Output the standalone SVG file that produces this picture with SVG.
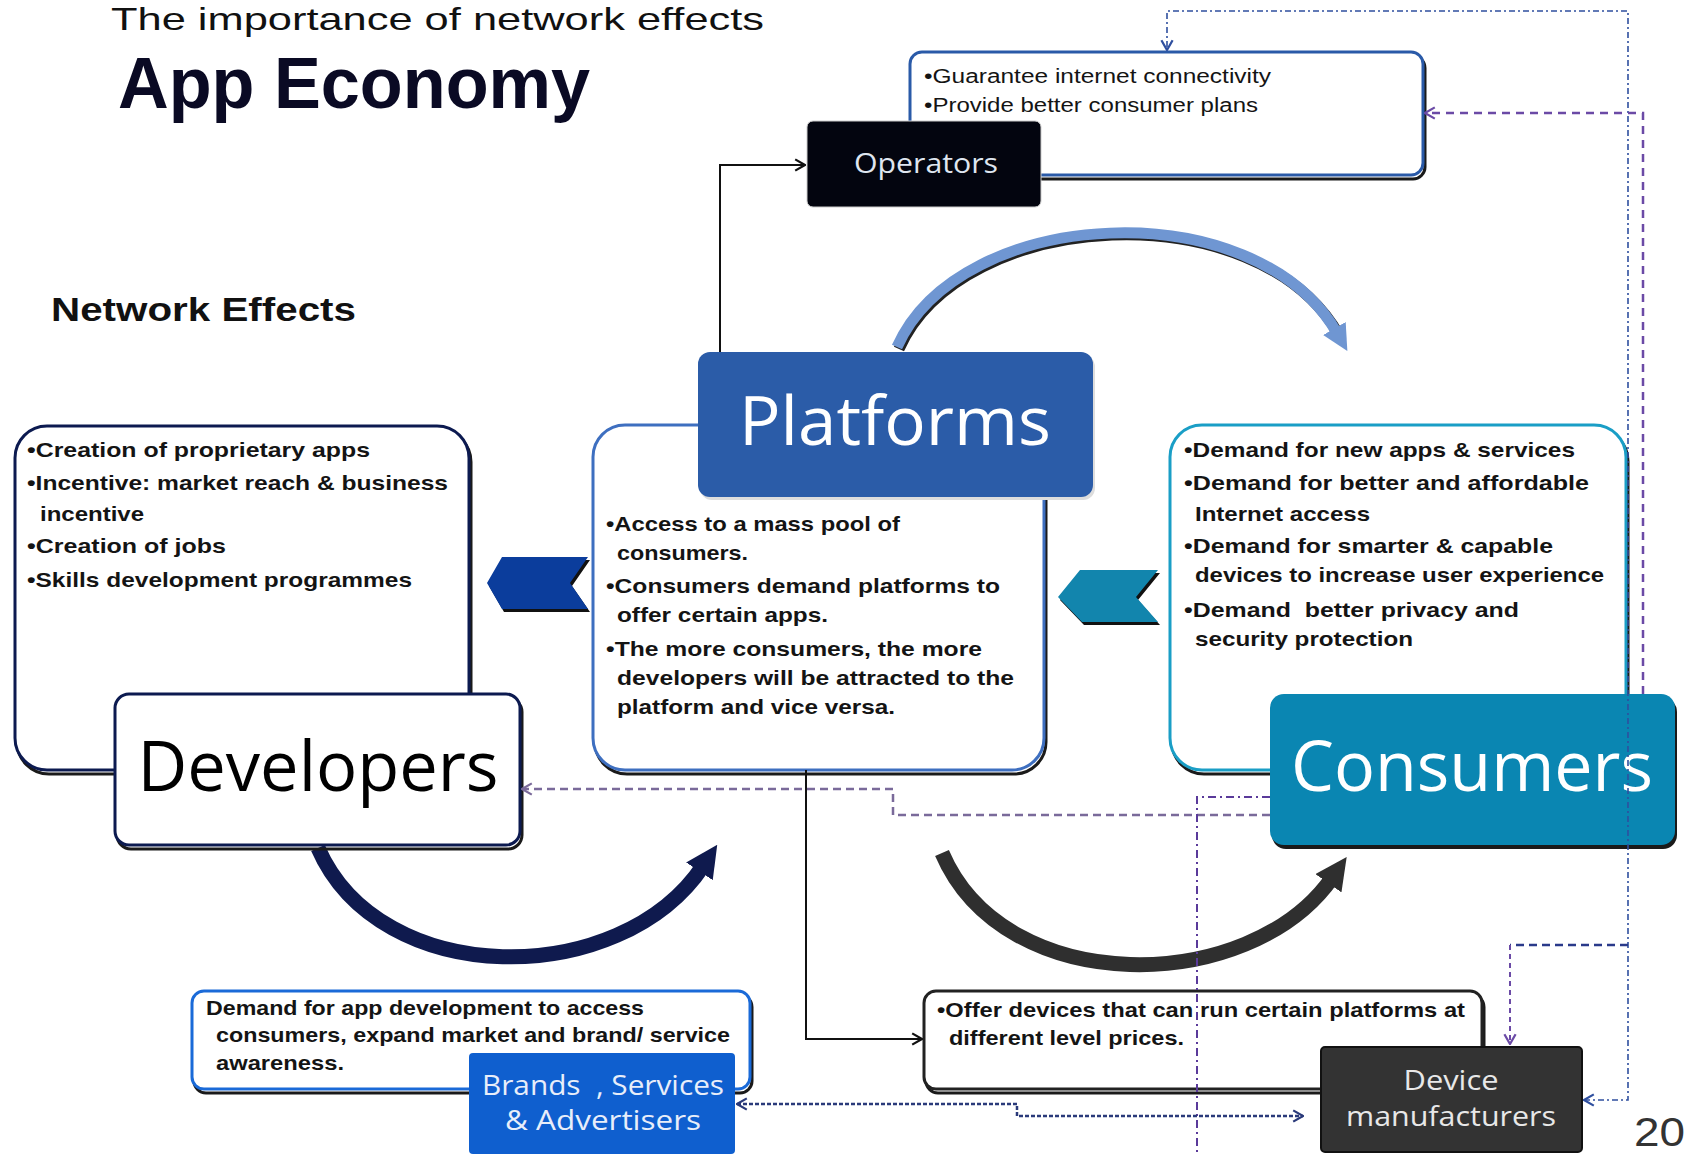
<svg xmlns="http://www.w3.org/2000/svg" width="1688" height="1156" viewBox="0 0 1688 1156">
<defs>
<style>
.info{font-family:"Liberation Sans",Arial,sans-serif;font-weight:bold;font-size:21px;fill:#141414}
.op{font-family:"Liberation Sans",Arial,sans-serif;font-size:20px;fill:#141414}
.lbl{font-family:"Open Sans","Liberation Sans",sans-serif;text-anchor:middle}
.shadow{fill:none;stroke:#1a1a1a;stroke-width:3}
.box{fill:#fff;stroke-width:3}
.conn{fill:none}
</style>
<marker id="hBlue" viewBox="0 0 10 10" refX="2" refY="5" markerWidth="26" markerHeight="26" markerUnits="userSpaceOnUse" orient="auto"><path d="M0,0 L10,5 L0,10 z" fill="#6f96d2"/></marker>
<marker id="hNavy" viewBox="0 0 10 10" refX="2" refY="5" markerWidth="32" markerHeight="32" markerUnits="userSpaceOnUse" orient="auto"><path d="M0,0 L10,5 L0,10 z" fill="#0f1a4e"/></marker>
<marker id="hGrey" viewBox="0 0 10 10" refX="2" refY="5" markerWidth="32" markerHeight="32" markerUnits="userSpaceOnUse" orient="auto"><path d="M0,0 L10,5 L0,10 z" fill="#2f2f2f"/></marker>
<marker id="oBlack" viewBox="0 0 10 10" refX="9" refY="5" markerWidth="14" markerHeight="14" markerUnits="userSpaceOnUse" orient="auto-start-reverse"><path d="M2,1 L9,5 L2,9" fill="none" stroke="#111" stroke-width="1.6"/></marker>
<marker id="oBlue" viewBox="0 0 10 10" refX="9" refY="5" markerWidth="14" markerHeight="14" markerUnits="userSpaceOnUse" orient="auto-start-reverse"><path d="M2,1 L9,5 L2,9" fill="none" stroke="#2f4f9f" stroke-width="1.6"/></marker>
<marker id="oPurple" viewBox="0 0 10 10" refX="9" refY="5" markerWidth="14" markerHeight="14" markerUnits="userSpaceOnUse" orient="auto-start-reverse"><path d="M2,1 L9,5 L2,9" fill="none" stroke="#6b4aa6" stroke-width="1.6"/></marker>
<marker id="oGrey" viewBox="0 0 10 10" refX="9" refY="5" markerWidth="14" markerHeight="14" markerUnits="userSpaceOnUse" orient="auto-start-reverse"><path d="M2,1 L9,5 L2,9" fill="none" stroke="#7a6a9a" stroke-width="1.6"/></marker>
<marker id="oNavy" viewBox="0 0 10 10" refX="9" refY="5" markerWidth="14" markerHeight="14" markerUnits="userSpaceOnUse" orient="auto-start-reverse"><path d="M2,1 L9,5 L2,9" fill="none" stroke="#2a3a7a" stroke-width="1.6"/></marker>
</defs>
<rect width="1688" height="1156" fill="#fff"/>

<g id="titles">
<text x="111" y="30" font-family="Liberation Sans,Arial,sans-serif" font-size="32" fill="#111" textLength="653" lengthAdjust="spacingAndGlyphs">The importance of network effects</text>
<text x="118" y="108" font-family="Liberation Sans,Arial,sans-serif" font-size="72" font-weight="bold" fill="#0a0a24" textLength="472" lengthAdjust="spacingAndGlyphs">App Economy</text>
<text x="51" y="321" font-family="Liberation Sans,Arial,sans-serif" font-size="34" font-weight="bold" fill="#111" textLength="305" lengthAdjust="spacingAndGlyphs">Network Effects</text>
</g>

<g id="arcs">
<path d="M899,349 C962,207 1257,192 1339,335" fill="none" stroke="#222" stroke-width="11"/>
<path d="M897,347 C960,205 1255,190 1337,333" fill="none" stroke="#6f96d2" stroke-width="11" marker-end="url(#hBlue)"/>
<path d="M318,848 C380,990 620,990 703,866" fill="none" stroke="#0f1a4e" stroke-width="15" marker-end="url(#hNavy)"/>
<path d="M942,853 C1005,1000 1250,995 1332,878" fill="none" stroke="#2f2f2f" stroke-width="15" marker-end="url(#hGrey)"/>
</g>

<g id="operators">
<rect class="shadow" x="912" y="56" width="513" height="123" rx="12"/>
<rect class="box" x="910" y="52" width="513" height="123" rx="12" stroke="#2a5aa8" stroke-width="2.5"/>
<text class="op" x="924" y="83" textLength="347" lengthAdjust="spacingAndGlyphs">•Guarantee internet connectivity</text>
<text class="op" x="924" y="112" textLength="334" lengthAdjust="spacingAndGlyphs">•Provide better consumer plans</text>
<rect x="807" y="121" width="234" height="86" rx="6" fill="#03050f" stroke="#ccc" stroke-width="1"/>
<text class="lbl" x="926" y="173" font-size="28" fill="#dfe6f0" textLength="144" lengthAdjust="spacingAndGlyphs">Operators</text>
</g>

<g id="developers">
<rect class="shadow" x="17" y="430" width="454" height="344" rx="32"/>
<rect class="box" x="15" y="426" width="454" height="344" rx="32" stroke="#0c1a50"/>
<text class="info" x="27" y="457" textLength="343" lengthAdjust="spacingAndGlyphs">•Creation of proprietary apps</text>
<text class="info" x="27" y="490" textLength="421" lengthAdjust="spacingAndGlyphs">•Incentive: market reach &amp; business</text>
<text class="info" x="40" y="521" textLength="104" lengthAdjust="spacingAndGlyphs">incentive</text>
<text class="info" x="27" y="553" textLength="199" lengthAdjust="spacingAndGlyphs">•Creation of jobs</text>
<text class="info" x="27" y="587" textLength="385" lengthAdjust="spacingAndGlyphs">•Skills development programmes</text>
<rect class="shadow" x="117" y="698" width="405" height="151" rx="14"/>
<rect class="box" x="115" y="694" width="405" height="151" rx="14" stroke="#0c1a50"/>
<text class="lbl" x="318" y="791" font-size="70" fill="#000" textLength="361" lengthAdjust="spacingAndGlyphs">Developers</text>
<polygon points="504,560 590,560 572,586 590,612 504,612 489,586" fill="#111"/>
<polygon points="502,557 588,557 570,583 588,609 502,609 487,583" fill="#0b3d9c"/>
</g>

<g id="platforms">
<rect class="shadow" x="595" y="429" width="451" height="345" rx="32"/>
<rect class="box" x="593" y="425" width="451" height="345" rx="32" stroke="#3e6fc0"/>
<text class="info" x="606" y="531" textLength="294" lengthAdjust="spacingAndGlyphs">•Access to a mass pool of</text>
<text class="info" x="617" y="560" textLength="131" lengthAdjust="spacingAndGlyphs">consumers.</text>
<text class="info" x="606" y="593" textLength="394" lengthAdjust="spacingAndGlyphs">•Consumers demand platforms to</text>
<text class="info" x="617" y="622" textLength="211" lengthAdjust="spacingAndGlyphs">offer certain apps.</text>
<text class="info" x="606" y="656" textLength="376" lengthAdjust="spacingAndGlyphs">•The more consumers, the more</text>
<text class="info" x="617" y="685" textLength="397" lengthAdjust="spacingAndGlyphs">developers will be attracted to the</text>
<text class="info" x="617" y="714" textLength="278" lengthAdjust="spacingAndGlyphs">platform and vice versa.</text>
<rect x="700" y="355" width="395" height="145" rx="12" fill="#ddd"/>
<rect x="698" y="352" width="395" height="145" rx="12" fill="#2b5ca8"/>
<text class="lbl" x="895" y="445" font-size="68" fill="#fff" textLength="312" lengthAdjust="spacingAndGlyphs">Platforms</text>
</g>

<g id="consumers">
<rect class="shadow" x="1172" y="429" width="456" height="345" rx="32"/>
<rect class="box" x="1170" y="425" width="456" height="345" rx="32" stroke="#1a9ec6"/>
<text class="info" x="1184" y="457" textLength="391" lengthAdjust="spacingAndGlyphs">•Demand for new apps &amp; services</text>
<text class="info" x="1184" y="490" textLength="405" lengthAdjust="spacingAndGlyphs">•Demand for better and affordable</text>
<text class="info" x="1195" y="521" textLength="175" lengthAdjust="spacingAndGlyphs">Internet access</text>
<text class="info" x="1184" y="553" textLength="369" lengthAdjust="spacingAndGlyphs">•Demand for smarter &amp; capable</text>
<text class="info" x="1195" y="582" textLength="409" lengthAdjust="spacingAndGlyphs">devices to increase user experience</text>
<text class="info" x="1184" y="617" textLength="335" lengthAdjust="spacingAndGlyphs" xml:space="preserve">•Demand  better privacy and</text>
<text class="info" x="1195" y="646" textLength="218" lengthAdjust="spacingAndGlyphs">security protection</text>
<rect x="1272" y="698" width="405" height="151" rx="14" fill="#1a1a1a"/>
<rect x="1270" y="694" width="405" height="151" rx="14" fill="#0a86b2"/>
<text class="lbl" x="1472" y="791" font-size="70" fill="#fff" textLength="362" lengthAdjust="spacingAndGlyphs">Consumers</text>
<polygon points="1082,573 1160,573 1138,600 1160,625 1084,625 1060,600" fill="#111"/>
<polygon points="1080,570 1158,570 1136,597 1158,622 1082,622 1058,597" fill="#1285ad"/>
</g>

<g id="brands">
<rect class="shadow" x="194" y="995" width="558" height="98" rx="12"/>
<rect class="box" x="192" y="991" width="558" height="98" rx="12" stroke="#1a6ad8"/>
<text class="info" x="206" y="1015" textLength="438" lengthAdjust="spacingAndGlyphs">Demand for app development to access</text>
<text class="info" x="216" y="1042" textLength="514" lengthAdjust="spacingAndGlyphs">consumers, expand market and brand/ service</text>
<text class="info" x="216" y="1070" textLength="128" lengthAdjust="spacingAndGlyphs">awareness.</text>
<rect x="469" y="1053" width="266" height="101" rx="4" fill="#0f5fcf"/>
<text class="lbl" x="603" y="1095" font-size="28" fill="#e8eefa" textLength="242" lengthAdjust="spacingAndGlyphs" xml:space="preserve">Brands  , Services</text>
<text class="lbl" x="603" y="1130" font-size="28" fill="#e8eefa" textLength="196" lengthAdjust="spacingAndGlyphs">&amp; Advertisers</text>
</g>

<g id="device">
<rect class="shadow" x="926" y="995" width="558" height="98" rx="12"/>
<rect class="box" x="924" y="991" width="558" height="98" rx="12" stroke="#222"/>
<text class="info" x="937" y="1017" textLength="528" lengthAdjust="spacingAndGlyphs">•Offer devices that can run certain platforms at</text>
<text class="info" x="949" y="1045" textLength="235" lengthAdjust="spacingAndGlyphs">different level prices.</text>
<rect x="1321" y="1047" width="261" height="105" rx="4" fill="#333" stroke="#111" stroke-width="2"/>
<text class="lbl" x="1451" y="1090" font-size="28" fill="#e8e8e8" textLength="95" lengthAdjust="spacingAndGlyphs">Device</text>
<text class="lbl" x="1451" y="1126" font-size="28" fill="#e8e8e8" textLength="210" lengthAdjust="spacingAndGlyphs">manufacturers</text>
</g>

<g id="page-number">
<text x="1634" y="1146" font-family="Liberation Sans,Arial,sans-serif" font-size="40" fill="#333" textLength="51" lengthAdjust="spacingAndGlyphs">20</text>
</g>

<g id="connectors" class="conn">
<path d="M720,352 V165 H805" stroke="#111" stroke-width="2" marker-end="url(#oBlack)"/>
<path d="M806,770 V1039 H922" stroke="#111" stroke-width="2" marker-end="url(#oBlack)"/>
<path d="M1584,1100 H1628 V11 H1167 V50" stroke="#2f4f9f" stroke-width="1.6" stroke-dasharray="6 3 2 3" marker-start="url(#oBlue)" marker-end="url(#oBlue)"/>
<path d="M1628,945 H1510" stroke="#2a3a8a" stroke-width="2.5" stroke-dasharray="8 5"/>
<path d="M1510,945 V1044" stroke="#6b4aa6" stroke-width="2" stroke-dasharray="5 4" marker-end="url(#oPurple)"/>
<path d="M1643,694 V113 H1425" stroke="#6b4aa6" stroke-width="2.5" stroke-dasharray="8 6" marker-end="url(#oPurple)"/>
<path d="M1270,815 H893 V789 H522" stroke="#7a6a9a" stroke-width="2.5" stroke-dasharray="8 5" marker-end="url(#oGrey)"/>
<path d="M1270,797 H1197 V1156" stroke="#5a3a9a" stroke-width="2" stroke-dasharray="8 4 2 4"/>
<path d="M737,1104 H1017 V1116 H1303" stroke="#2a3a7a" stroke-width="2.5" stroke-dasharray="4 2" marker-start="url(#oNavy)" marker-end="url(#oNavy)"/>
</g>
</svg>
